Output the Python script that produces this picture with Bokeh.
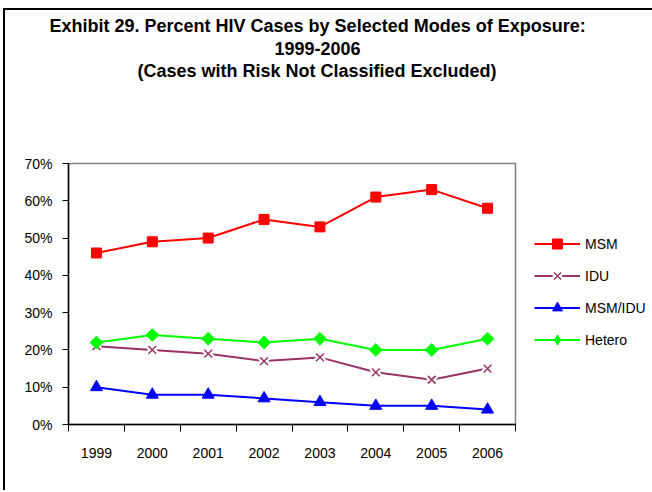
from bokeh.plotting import figure
from bokeh.models import (Range1d, FixedTicker, PrintfTickFormatter, Title, Legend, LegendItem)
from bokeh.embed import file_html
from bokeh.resources import INLINE

years = ["1999", "2000", "2001", "2002", "2003", "2004", "2005", "2006"]
msm = [46, 49, 50, 55, 53, 61, 63, 58]
idu = [21, 20, 19, 17, 18, 14, 12, 15]
msm_idu = [10, 8, 8, 7, 6, 5, 5, 4]
hetero = [22, 24, 23, 22, 23, 20, 20, 23]
y_ticks = [0, 10, 20, 30, 40, 50, 60, 70]
title_lines = ["Exhibit 29. Percent HIV Cases by Selected Modes of Exposure:",
               "1999-2006",
               "(Cases with Risk Not Classified Excluded)"]

FONT = "Liberation Sans"

xs = [i + 0.5 for i in range(len(years))]

p = figure(frame_width=447, frame_height=261, output_backend="svg", toolbar_location=None,
           x_range=Range1d(0, len(years)), y_range=Range1d(0, 70),
           min_border_left=63, min_border_right=136, min_border_top=153, min_border_bottom=66,
           styles={"margin-left": "3px", "margin-top": "8px",
                   "border-left": "2px solid black", "border-top": "2px solid black"})

p.xgrid.visible = False
p.ygrid.visible = False
p.outline_line_color = "#808080"
p.outline_line_width = 1.5

# x axis
xa = p.xaxis[0]
xa.ticker = FixedTicker(ticks=xs, minor_ticks=list(range(len(years) + 1)))
xa.major_label_overrides = {x: y for x, y in zip(xs, years)}
xa.major_tick_out = 0
xa.major_tick_in = 0
xa.minor_tick_out = 7
xa.minor_tick_in = 0
xa.minor_tick_line_color = "black"
xa.axis_line_color = "black"
xa.axis_line_width = 1.5
xa.major_label_standoff = 16
xa.major_label_text_font = FONT
xa.major_label_text_font_size = "14px"
xa.major_label_text_color = "black"

# y axis
ya = p.yaxis[0]
ya.ticker = FixedTicker(ticks=y_ticks, minor_ticks=[])
ya.formatter = PrintfTickFormatter(format="%d%%")
ya.major_tick_out = 6
ya.major_tick_in = 0
ya.major_tick_line_color = "black"
ya.axis_line_color = "black"
ya.axis_line_width = 1.5
ya.major_label_standoff = 10
ya.major_label_text_font = FONT
ya.major_label_text_font_size = "14px"
ya.major_label_text_color = "black"

RED = "#FF0000"
PLUM = "#993366"
BLUE = "#0000FF"
GREEN = "#00FF00"

l_msm = p.line(xs, msm, line_color=RED, line_width=2)
l_idu = p.line(xs, idu, line_color=PLUM, line_width=2)
l_mi = p.line(xs, msm_idu, line_color=BLUE, line_width=2)
l_het = p.line(xs, hetero, line_color=GREEN, line_width=2)

w_idu = p.scatter(xs, idu, marker="x", size=12, line_color="white", line_width=6)
m_idu = p.scatter(xs, idu, marker="x", size=11, line_color=PLUM, line_width=1.5)
m_msm = p.scatter(xs, msm, marker="square", size=10, fill_color=RED, line_color=RED)
m_mi = p.scatter(xs, msm_idu, marker="triangle", size=12, fill_color=BLUE, line_color=BLUE)
# diamond glyph (used for the legend), covered by the rotated squares in the plot
k_het = p.scatter(xs, hetero, marker="diamond", size=12, fill_color=GREEN, line_color=GREEN)
m_het = p.scatter(xs, hetero, marker="square", angle=0.785398, size=9, fill_color=GREEN, line_color=GREEN)

legend = Legend(items=[
    LegendItem(label="MSM", renderers=[l_msm, m_msm]),
    LegendItem(label="IDU", renderers=[l_idu, w_idu, m_idu]),
    LegendItem(label="MSM/IDU", renderers=[l_mi, m_mi]),
    LegendItem(label="Hetero", renderers=[l_het, k_het]),
], location=(19, 72), orientation="vertical")
legend.glyph_width = 46
legend.glyph_height = 25
legend.label_height = 25
legend.spacing = 7
legend.padding = 0
legend.margin = 0
legend.label_standoff = 5
legend.border_line_color = None
legend.background_fill_alpha = 0
legend.label_text_font = FONT
legend.label_text_font_size = "14px"
legend.label_text_color = "black"
p.add_layout(legend, "right")

# spacer between the title block and the plot frame
p.add_layout(Title(text=" ", text_font_size="1px", standoff=78), "above")
# titles: added from the one nearest the frame outward
offsets = [-19, 206, 69]
for txt, off in reversed(list(zip(title_lines, offsets))):
    p.add_layout(Title(text=txt, align="left", offset=off, standoff=4,
                       text_font=FONT, text_font_size="18px", text_font_style="bold",
                       text_color="black"), "above")

open("out.html", "w").write(file_html(p, INLINE))
